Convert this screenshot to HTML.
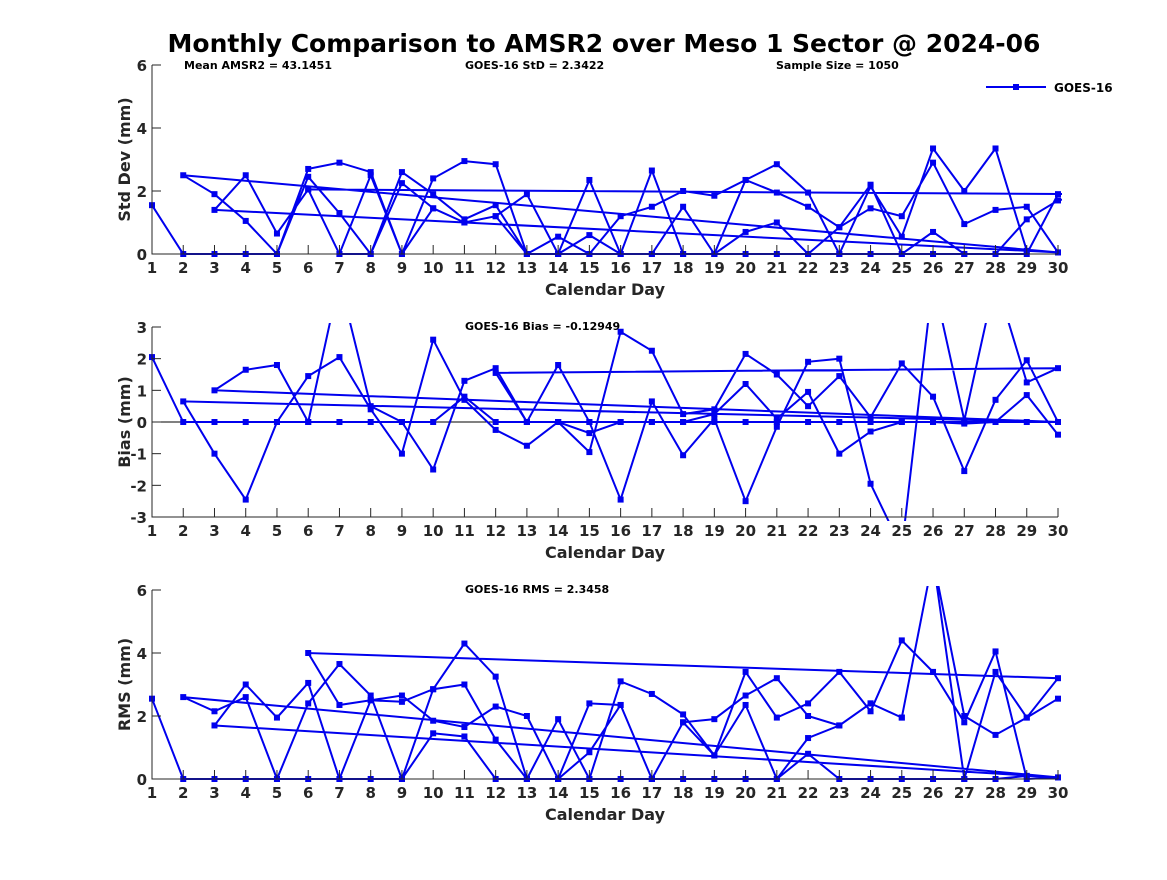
<!DOCTYPE html>
<html><head><meta charset="utf-8"><style>
body{margin:0;background:#fff;width:1167px;height:875px;overflow:hidden}
svg text{font-family:"DejaVu Sans","Liberation Sans",sans-serif;font-weight:bold;fill:#262626}
</style></head><body>
<svg id="c" width="1167" height="875" xmlns="http://www.w3.org/2000/svg">
<text x="604" y="52" text-anchor="middle" font-size="25" style="fill:#000">Monthly Comparison to AMSR2 over Meso 1 Sector @ 2024-06</text>
<text x="184" y="69" font-size="11" style="fill:#000">Mean AMSR2 = 43.1451</text>
<text x="465" y="69" font-size="11" style="fill:#000">GOES-16 StD = 2.3422</text>
<text x="776" y="69" font-size="11" style="fill:#000">Sample Size = 1050</text>
<text x="465" y="330" font-size="11" style="fill:#000">GOES-16 Bias = -0.12949</text>
<text x="465" y="593" font-size="11" style="fill:#000">GOES-16 RMS = 2.3458</text>
<g>
<line x1="986" y1="87" x2="1046" y2="87" stroke="#0000ee" stroke-width="2"/>
<rect x="1013" y="84" width="6" height="6" fill="#0000ee"/>
<text x="1054" y="92" font-size="12" style="fill:#000">GOES-16</text>
</g>
</svg>
<script>
// Std Dev panel passes
const stdStarts = [1, 2, 3, 6];
const stdP1 = [1.55,0,0,0,0,2.7,2.9,2.6,0,2.4,2.95,2.85,0,0,2.35,0,2.65,0,0,2.35,2.85,1.95,0,2.15,0.55,3.35,2.0,3.35,0.1,0.05];
const stdP2 = [2.5,1.9,1.05,0,2.45,1.3,0,2.6,1.9,1.1,1.55,0,0.55,0,1.2,1.5,2.0,1.85,2.35,1.95,1.5,0.85,1.45,1.2,2.9,0.95,1.4,1.5,0.05];
const stdP3 = [1.4,2.5,0.65,2.05,0,2.5,0,1.45,1.0,1.2,1.9,0,0.6,0,0,1.5,0,0.7,1.0,0,0.85,2.2,0,0.7,0,0,1.1,1.7,1.9];
const stdP4 = [2.05,0,0,2.25,1.45,1.0,1.2,0,0,0,0,0,0,0,0,0,0,0,0,0,0,0,0,0,1.9];
// Bias panel passes
const biasStarts = [1, 2, 3, 12];
const biasP1 = [2.05,0,0,0,0,0,0,0,0,0,0.8,0,0,0,0,0,0,0,0,0,0,0,0,0,0,0,0,0,0,0];
const biasP2 = [0.65,-1.0,-2.45,0,1.45,2.05,0.4,-1.0,2.6,0.7,-0.25,-0.75,0,-0.95,2.85,2.25,0.25,0.4,2.15,1.5,0.5,1.45,0.15,1.85,0.8,-1.55,0.7,1.95,0];
const biasP3 = [1.0,1.65,1.8,0,4.5,0.5,0,-1.5,1.3,1.7,0,1.8,0,-2.45,0.65,-1.05,0.1,-2.5,-0.15,1.9,2.0,-1.95,-4,4.5,0.05,4.5,1.25,1.7];
const biasP4 = [1.55,0,0,-0.35,0,0,0,0.25,1.2,0.1,0.95,-1.0,-0.3,0,0,-0.05,0,0.85,-0.4];
// RMS panel passes
const rmsStarts = [1, 2, 3, 6];
const rmsP1 = [2.55,0,0,0,0,0,0,0,0,1.45,1.35,0,0,0,0,0,0,0,0,0,0,0.8,0,0,0,0,0,0,0.1,0.05];
const rmsP2 = [2.6,2.15,2.6,0,2.4,3.65,2.65,0,2.85,4.3,3.25,0,1.9,0,3.1,2.7,2.05,0.75,3.4,1.95,2.4,3.4,2.15,4.4,3.4,1.8,4.05,0,0.05];
const rmsP3 = [1.7,3.0,1.95,3.05,0,2.5,2.65,1.85,1.65,2.3,2.0,0,2.4,2.35,0,1.8,1.9,2.65,3.2,2.0,1.7,2.4,1.95,7,0,3.4,1.95,3.2];
const rmsP4 = [4.0,2.35,2.5,2.45,2.85,3.0,1.25,0,0,0.85,2.35,0,1.8,0.75,2.35,0,1.3,1.7,2.4,1.95,7,2.0,1.4,1.95,2.55];
const dayTicks = [1,2,3,4,5,6,7,8,9,10,11,12,13,14,15,16,17,18,19,20,21,22,23,24,25,26,27,28,29,30];
const stdTicks = [0,2,4,6];
const biasTicks = [-3,-2,-1,0,1,2,3];
const rmsTicks = [0,2,4,6];

const NS = "http://www.w3.org/2000/svg";
const svg = document.getElementById('c');
const X0 = 152, X1 = 1058;
function xs(d){ return X0 + (d-1)*(X1-X0)/29; }
function mk(tag, attrs, parent){ const e=document.createElementNS(NS,tag); for(const k in attrs) e.setAttribute(k,attrs[k]); (parent||svg).appendChild(e); return e; }

function panel(id, top, bot, ymin, ymax, ticks, ylabel, starts, passes, zeroLine){
  const ys = v => bot - (v-ymin)*(bot-top)/(ymax-ymin);
  const g = mk('g', {});
  
  
  const cp = mk('clipPath', {id: id+'clip'}, g);
  mk('rect', {x: X0-4, y: top-4, width: X1-X0+8, height: bot-top+8}, cp);
  if (zeroLine) {
    const zl = mk('line', {x1:X0, x2:X1, y1:ys(0), y2:ys(0), stroke:'#000', 'stroke-width':1}, g);
    
    
  }
  let pts = [];
  passes.forEach((arr, i) => arr.forEach((v, j) => pts.push([xs(starts[i]+j), ys(v)])));
  const pl = mk('polyline', {points: pts.map(p=>p[0].toFixed(1)+','+p[1].toFixed(1)).join(' '), fill:'none', stroke:'#0000ee', 'stroke-width':2, 'clip-path':'url(#'+id+'clip)'}, g);
  
  
  const mg = mk('g', {'clip-path':'url(#'+id+'clip)'}, g);
  pts.forEach(p => {
    const r = mk('rect', {x:p[0]-3, y:p[1]-3, width:6, height:6, fill:'#0000ee'}, mg);
    
    
  });
  const ax = mk('path', {d:`M${X0},${top}V${bot}H${X1}`, stroke:'#262626', fill:'none', 'stroke-width':1}, g);
  
  
  dayTicks.forEach(d => {
    mk('line', {x1:xs(d), x2:xs(d), y1:bot, y2:bot-9, stroke:'#262626'}, g);
    const t = mk('text', {x:xs(d), y:bot+19, 'text-anchor':'middle', 'font-size':15}, g);
    t.textContent = d;
    
    
  });
  ticks.forEach(v => {
    mk('line', {x1:X0, x2:X0+9, y1:ys(v), y2:ys(v), stroke:'#262626'}, g);
    const t = mk('text', {x:X0-5, y:ys(v)+6, 'text-anchor':'end', 'font-size':15}, g);
    t.textContent = v;
    
    
  });
  const xl = mk('text', {x:(X0+X1)/2, y:bot+41, 'text-anchor':'middle', 'font-size':16}, g);
  xl.textContent = 'Calendar Day';
  
  
  const cy = (top+bot)/2;
  const yl = mk('text', {x:130, y:cy, 'text-anchor':'middle', 'font-size':16, transform:`rotate(-90 130 ${cy})`}, g);
  yl.textContent = ylabel;
  
  
}
panel('std', 65, 254, 0, 6, stdTicks, 'Std Dev (mm)', stdStarts, [stdP1,stdP2,stdP3,stdP4], false);
panel('bias', 327, 517, -3, 3, biasTicks, 'Bias (mm)', biasStarts, [biasP1,biasP2,biasP3,biasP4], true);
panel('rms', 590, 779, 0, 6, rmsTicks, 'RMS (mm)', rmsStarts, [rmsP1,rmsP2,rmsP3,rmsP4], false);
</script>
</body></html>
